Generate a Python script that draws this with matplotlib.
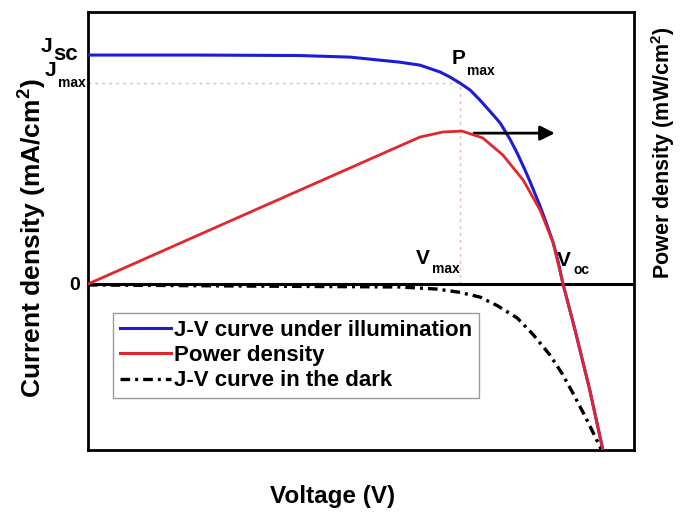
import matplotlib
matplotlib.use("Agg")
import matplotlib.pyplot as plt
from matplotlib.lines import Line2D

plt.rcParams['font.family'] = ['Liberation Sans', 'DejaVu Sans']
plt.rcParams['font.weight'] = 'bold'
plt.rcParams['mathtext.fontset'] = 'custom'
plt.rcParams['mathtext.rm'] = 'Liberation Sans:bold'
plt.rcParams['mathtext.bf'] = 'Liberation Sans:bold'

# J-V curve under illumination (normalised voltage, normalised current density)
v_light = [0.0, 0.205, 0.388, 0.480, 0.571, 0.608, 0.645, 0.663, 0.681, 0.700,
           0.718, 0.736, 0.755, 0.773, 0.786, 0.800, 0.810, 0.828, 0.840, 0.852,
           0.861, 0.870, 0.892, 0.919, 0.943, 0.950]
j_light = [1.0, 1.0, 0.998, 0.991, 0.969, 0.956, 0.926, 0.904, 0.878, 0.847,
           0.803, 0.755, 0.703, 0.632, 0.572, 0.500, 0.445, 0.340, 0.262, 0.180,
           0.098, 0.0, -0.201, -0.463, -0.725, -0.76]

# Power density curve (same normalised scale)
v_power = [0.0, 0.297, 0.608, 0.650, 0.685, 0.723, 0.760, 0.797, 0.828, 0.852,
           0.870, 0.892, 0.919, 0.943, 0.950]
p_power = [0.0, 0.314, 0.642, 0.664, 0.668, 0.638, 0.563, 0.454, 0.323, 0.180,
           0.0, -0.201, -0.463, -0.725, -0.76]

# J-V curve in the dark
v_dark = [0.0, 0.297, 0.571, 0.639, 0.680, 0.718, 0.750, 0.786, 0.815, 0.846,
          0.868, 0.888, 0.912, 0.938, 0.945]
j_dark = [-0.004, -0.009, -0.013, -0.022, -0.036, -0.057, -0.095, -0.148, -0.220,
          -0.310, -0.390, -0.476, -0.585, -0.712, -0.75]

# Maximum power point and open-circuit voltage
v_max, j_max = 0.681, 0.878
v_arrow = [0.707, 0.855]
p_arrow = 0.659

legend_labels = ['J-V curve under illumination', 'Power density', 'J-V curve in the dark']

blue = '#1c1cd4'
red = '#e3262b'
dark_dash = (2.9, 1.5, 0.9, 1.5)

fig = plt.figure(figsize=(6.81, 5.14), dpi=100)
ax = fig.add_axes([0.1292, 0.1245, 0.8018, 0.8521])
ax.set_xlim(0, 1.0)
ax.set_ylim(-0.725, 1.188)
ax.set_xticks([])
ax.set_yticks([])
for s in ax.spines.values():
    s.set_linewidth(2.0)

ax.axhline(0, color='black', lw=2.2, zorder=3)
ax.plot([0, v_max], [j_max, j_max], color='#e2b4d6', lw=1.0, ls=(0, (2, 3)), zorder=1)
ax.plot([v_max, v_max], [0, j_max], color='#e2b4d6', lw=1.0, ls=(0, (2, 3)), zorder=1)

ax.plot(v_dark, j_dark, color='black', lw=2.4, dashes=dark_dash, zorder=2)
ax.plot(v_light, j_light, color=blue, lw=2.2, zorder=4)

ax2 = ax.twinx()
ax2.set_ylim(ax.get_ylim())
ax2.set_yticks([])
for s in ax2.spines.values():
    s.set_visible(False)
ax2.plot(v_power, p_power, color=red, lw=2.0, zorder=5)
ax2.annotate('', xy=(v_arrow[1], p_arrow), xytext=(v_arrow[0], p_arrow),
             arrowprops=dict(arrowstyle='-|>', color='black', lw=2.0,
                             mutation_scale=22, shrinkA=0, shrinkB=0))

handles = [Line2D([], [], color=blue, lw=2.2),
           Line2D([], [], color=red, lw=2.2),
           Line2D([], [], color='black', lw=2.4, dashes=dark_dash)]
leg = ax2.legend(handles, legend_labels, loc='upper left',
                 bbox_to_anchor=(0.046, 0.313), borderaxespad=0,
                 prop=dict(size=16, weight='bold'), handlelength=2.3,
                 handletextpad=0.15, labelspacing=0.2, borderpad=0.3,
                 fancybox=False, framealpha=1, edgecolor='#9a9a9a')
leg.get_frame().set_linewidth(1.0)

W, H = 681, 514
def ftext(x, y, s, size, **kw):
    fig.text(x / W, 1 - y / H, s, fontsize=size, fontweight='bold', **kw)

# Annotations around the axes
ftext(52, 46, 'J', 15, ha='right', va='center')
ftext(53, 54, 'sc', 16, ha='left', va='center')
ftext(56, 70, 'J', 15, ha='right', va='center')
ftext(58, 83, 'max', 10, ha='left', va='center')
ftext(80, 285, '0', 14, ha='right', va='center')
ftext(452, 59, 'P', 15, ha='left', va='center')
ftext(467, 71, 'max', 10, ha='left', va='center')
ftext(416, 258, 'V', 15, ha='left', va='center')
ftext(432, 269, 'max', 10, ha='left', va='center')
ftext(557, 260, 'V', 15, ha='left', va='center')
ftext(573, 270, 'oc', 10, ha='left', va='center')

ftext(333, 497, 'Voltage (V)', 17.5, ha='center', va='center')
ftext(32, 238, r'Current density (mA/cm$^{2}$)', 19, ha='center', va='center',
      rotation=90)
ftext(663, 153, r'Power density (mW/cm$^{2}$)', 15.5, ha='center', va='center',
      rotation=90)

fig.savefig('out.png', dpi=100)
